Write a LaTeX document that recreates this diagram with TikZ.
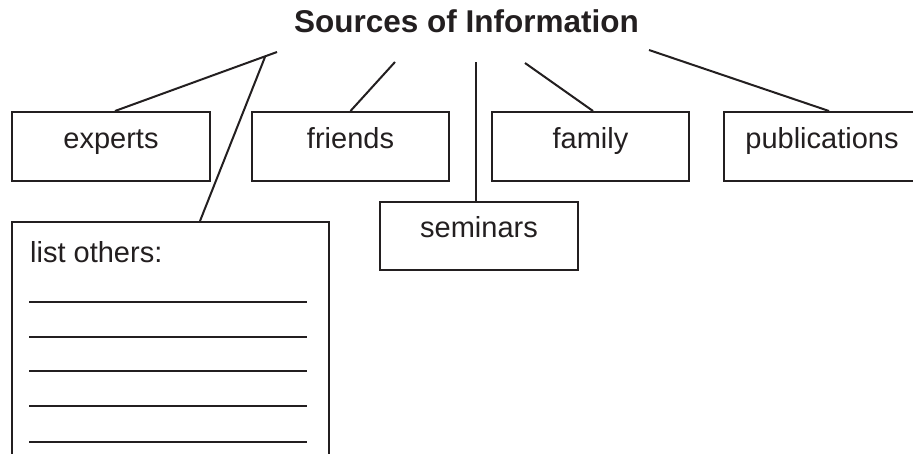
\documentclass[tikz,border=0pt]{standalone}
\usepackage{fontspec}
\setmainfont{Liberation Sans}
\usetikzlibrary{calc}
\definecolor{ink}{HTML}{231F20}
\begin{document}
\begin{tikzpicture}[x=1pt,y=-1pt,
  box/.style={draw=ink, line width=2pt, minimum height=69pt, text height=11pt, text depth=8pt, inner sep=0pt, font=\fontsize{29}{34}\selectfont, text=ink},
  conn/.style={draw=ink, line width=2pt},
  rule/.style={draw=ink, line width=2pt},
  lbl/.style={inner sep=0pt, text=ink, font=\fontsize{29}{34}\selectfont}]
\clip (0,0) rectangle (913,453);
\fill[white] (0,0) rectangle (913,453);
\node[anchor=base, inner sep=0pt, text=ink, font=\bfseries\fontsize{31.5}{36}\selectfont] (title) at (466.5,32) {Sources of Information};
\node[box, minimum width=198pt] (experts) at (111,146.5) {experts};
\node[box, minimum width=197pt] (friends) at (350.5,146.5) {friends};
\node[box, minimum width=197pt] (family) at (590.5,146.5) {family};
\node[box, minimum width=196pt] (pubs) at (822,146.5) {publications};
\node[box, minimum width=198pt, minimum height=68pt] (seminars) at (479,236) {seminars};
\node[draw=ink, line width=2pt, minimum width=317pt, minimum height=260pt, inner sep=0pt] (list) at (170.5,352) {};
\node[lbl, anchor=base west] (listlbl) at (30,262) {list others:};
\foreach \yy in {302,337,371,406,442} \draw[rule] (29,\yy) -- (307,\yy);
\coordinate (hubE) at (277,52);
\coordinate (hubL) at (265,57);
\coordinate (hubF) at (395,62);
\coordinate (hubS) at (476,62);
\coordinate (hubFa) at (525,63);
\coordinate (hubP) at (649,50);
\draw[conn] (hubE) -- ($(experts.north)+(4,0)$);
\draw[conn] (hubL) -- ($(list.north)+(29.5,0)$);
\draw[conn] (hubF) -- (friends.north);
\draw[conn] (hubS) -- ($(seminars.north)+(-3,0)$);
\draw[conn] (hubFa) -- ($(family.north)+(2.5,0)$);
\draw[conn] (hubP) -- ($(pubs.north)+(7,0)$);
\end{tikzpicture}
\end{document}
